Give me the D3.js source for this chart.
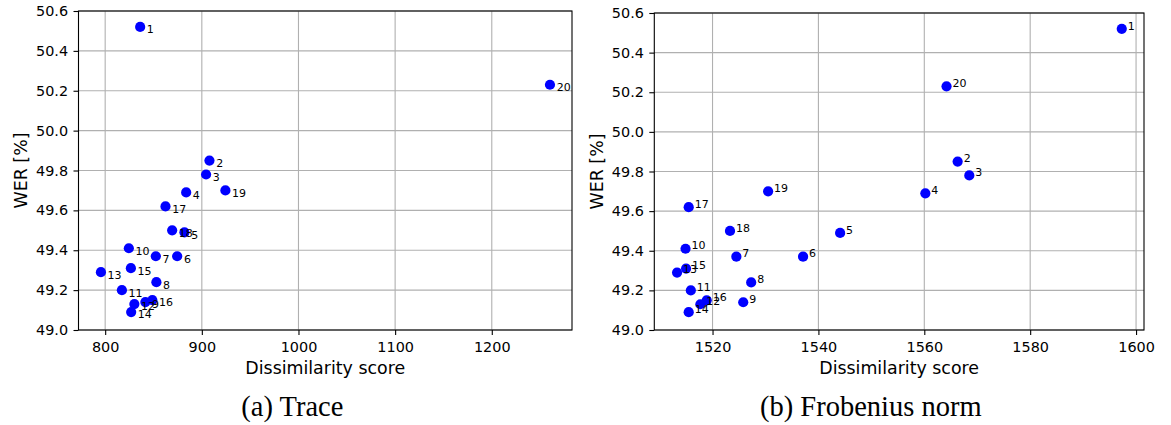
<!DOCTYPE html>
<html>
<head>
<meta charset="utf-8">
<script src="https://cdn.jsdelivr.net/npm/d3@7"></script>
<style>
  html, body { margin: 0; padding: 0; background: #fff; }
  svg { display: block; }
  .tick text { font-family: "DejaVu Sans", sans-serif; font-size: 14.4px; fill: #000; }
</style>
</head>
<body>
<svg id="chart" width="1171" height="425"></svg>
<script>
// ---- data ----
const runIds = ["1","2","3","4","5","6","7","8","9","10","11","12","13","14","15","16","17","18","19","20"];
const werValues = [50.52, 49.85, 49.78, 49.69, 49.49, 49.37, 49.37, 49.24, 49.14, 49.41,
                   49.20, 49.13, 49.29, 49.09, 49.31, 49.15, 49.62, 49.50, 49.70, 50.23];
const traceScores = [836.2, 907.9, 904.4, 883.8, 882.0, 874.5, 852.4, 853.0, 841.6, 824.5,
                     817.3, 830.2, 795.6, 826.9, 826.6, 848.8, 862.4, 869.3, 924.4, 1260.2];
const frobeniusScores = [1597.3, 1566.3, 1568.5, 1560.2, 1544.1, 1537.1, 1524.5, 1527.3, 1525.8, 1514.9,
                         1515.9, 1517.7, 1513.3, 1515.5, 1515.0, 1518.9, 1515.5, 1523.3, 1530.5, 1564.2];
const werTicks = [49.0, 49.2, 49.4, 49.6, 49.8, 50.0, 50.2, 50.4, 50.6];
const traceTicks = [800, 900, 1000, 1100, 1200];
const frobeniusTicks = [1520, 1540, 1560, 1580, 1600];
const xLabel = "Dissimilarity score";
const yLabel = "WER [%]";
const captions = ["(a) Trace", "(b) Frobenius norm"];

const svg = d3.select("#chart");

function panel(cfg) {
  const g = svg.append("g");
  const x = d3.scaleLinear().domain(cfg.xDomain).range([cfg.left, cfg.right]);
  const y = d3.scaleLinear().domain([49.0, 50.6]).range([cfg.bottom, cfg.top]);

  // grid
  g.append("g").selectAll("line").data(cfg.xTicks).join("line")
    .attr("x1", d => x(d)).attr("x2", d => x(d))
    .attr("y1", cfg.top).attr("y2", cfg.bottom)
    .attr("stroke", "#b0b0b0").attr("stroke-width", 1.1);
  g.append("g").selectAll("line").data(werTicks).join("line")
    .attr("x1", cfg.left).attr("x2", cfg.right)
    .attr("y1", d => y(d)).attr("y2", d => y(d))
    .attr("stroke", "#b0b0b0").attr("stroke-width", 1.1);

  // points
  const pts = runIds.map((id, i) => ({ id, sx: cfg.scores[i], w: werValues[i] }));
  g.append("g").selectAll("circle").data(pts).join("circle")
    .attr("cx", d => x(d.sx)).attr("cy", d => y(d.w)).attr("r", 5.1)
    .attr("fill", "#0000ff");
  g.append("g").selectAll("text").data(pts).join("text")
    .attr("x", d => x(d.sx) + cfg.lblDx).attr("y", d => y(d.w) + cfg.lblDy)
    .attr("font-family", "DejaVu Sans, sans-serif").attr("font-size", 11)
    .attr("fill", "#000").text(d => d.id);

  // axes
  const xa = g.append("g").attr("transform", `translate(0,${cfg.bottom})`)
    .call(d3.axisBottom(x).tickValues(cfg.xTicks).tickSize(5).tickPadding(7).tickFormat(d3.format("d")));
  const ya = g.append("g").attr("transform", `translate(${cfg.left},0)`)
    .call(d3.axisLeft(y).tickValues(werTicks).tickSize(5).tickPadding(5.4).tickFormat(d3.format(".1f")));
  [xa, ya].forEach(a => {
    a.select(".domain").remove();
    a.selectAll(".tick line").attr("stroke", "#000").attr("stroke-width", 1.1);
  });

  // frame
  g.append("rect").attr("x", cfg.left).attr("y", cfg.top)
    .attr("width", cfg.right - cfg.left).attr("height", cfg.bottom - cfg.top)
    .attr("fill", "none").attr("stroke", "#000").attr("stroke-width", 1.1);

  // labels
  g.append("text").attr("x", (cfg.left + cfg.right) / 2).attr("y", 374)
    .attr("text-anchor", "middle").attr("font-family", "DejaVu Sans, sans-serif")
    .attr("font-size", 17.4).attr("fill", "#000").text(xLabel);
  g.append("text")
    .attr("transform", `translate(${cfg.yLabelX},${(cfg.top + cfg.bottom) / 2}) rotate(-90)`)
    .attr("text-anchor", "middle").attr("font-family", "DejaVu Sans, sans-serif")
    .attr("font-size", 17.4).attr("fill", "#000").text(yLabel);
  g.append("text").attr("x", cfg.captionX).attr("y", 416)
    .attr("text-anchor", "middle").attr("font-family", "Liberation Serif, serif")
    .attr("font-size", 28.5).attr("fill", "#000").text(cfg.caption);
}

panel({ xDomain: [772.4, 1283], left: 78.5, right: 572, top: 11, bottom: 330,
        scores: traceScores, xTicks: traceTicks, lblDx: 6.7, lblDy: 6.4,
        yLabelX: 27, captionX: 292.3, caption: captions[0] });
panel({ xDomain: [1509, 1601.5], left: 654.3, right: 1144, top: 13, bottom: 330,
        scores: frobeniusScores, xTicks: frobeniusTicks, lblDx: 6, lblDy: 0.7,
        yLabelX: 603, captionX: 870.8, caption: captions[1] });
</script>
</body>
</html>
